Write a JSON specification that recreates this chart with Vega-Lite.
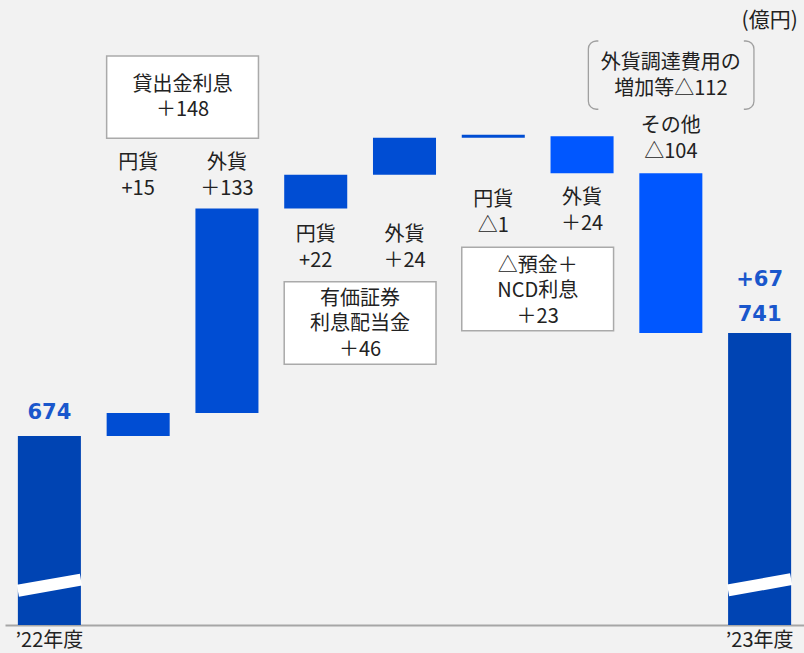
{
  "$schema": "https://vega.github.io/schema/vega-lite/v6.json",
  "width": 799,
  "height": 625,
  "autosize": {"type": "none"},
  "padding": {"left": 5, "top": 0, "right": 0, "bottom": 28},
  "background": "#f2f2f2",
  "config": {"view": {"stroke": null}, "font": "Noto Sans CJK JP"},
  "datasets": {
    "bars": [
      {"cat": "’22年度", "start": 0, "end": 674, "grp": "total"},
      {"cat": "円貨L", "start": 674, "end": 689, "grp": "a"},
      {"cat": "外貨L", "start": 689, "end": 822, "grp": "a"},
      {"cat": "円貨S", "start": 822, "end": 844, "grp": "a"},
      {"cat": "外貨S", "start": 844, "end": 868, "grp": "a"},
      {"cat": "円貨D", "start": 868, "end": 870, "grp": "a"},
      {"cat": "外貨D", "start": 869, "end": 845, "grp": "b"},
      {"cat": "その他", "start": 845, "end": 741, "grp": "b"},
      {"cat": "’23年度", "start": 0, "end": 741, "grp": "total"}
    ],
    "breaks": [
      {"cat": "’22年度", "lo": 573.4, "hi": 580.6},
      {"cat": "’23年度", "lo": 573.6, "hi": 580.9}
    ],
    "boxes": [
      {"c1": "円貨L", "c2": "外貨L", "top": 921.2, "bottom": 867.7},
      {"c1": "円貨S", "c2": "外貨S", "top": 774.4, "bottom": 720.7},
      {"c1": "円貨D", "c2": "外貨D", "top": 796.8, "bottom": 742.5}
    ],
    "bracket": [
      {"c1": "外貨D", "c2": "’23年度", "top": 931.0, "bottom": 886.6}
    ],
    "boxtext": [
      {"cat": "円貨L", "y": 902.4, "text": "貸出金利息\n＋148"},
      {"cat": "円貨S", "y": 763.2, "text": "有価証券\n利息配当金\n＋46"},
      {"cat": "円貨D", "y": 784.8, "text": "△預金＋\nNCD利息\n＋23"}
    ],
    "labels": [
      {"cat": "円貨L", "y": 851.4, "text": "円貨\n+15"},
      {"cat": "外貨L", "y": 851.4, "text": "外貨\n＋133"},
      {"cat": "円貨S", "y": 804.8, "text": "円貨\n+22"},
      {"cat": "外貨S", "y": 804.8, "text": "外貨\n＋24"},
      {"cat": "円貨D", "y": 827.6, "text": "円貨\n△1"},
      {"cat": "外貨D", "y": 828.7, "text": "外貨\n＋24"},
      {"cat": "その他", "y": 875.7, "text": "その他\n△104"},
      {"cat": "その他", "y": 916.5, "text": "外貨調達費用の\n増加等△112"}
    ],
    "totals": [
      {"cat": "’22年度", "y": 688.8, "text": "674"},
      {"cat": "’23年度", "y": 752.6, "text": "741"},
      {"cat": "’23年度", "y": 775.5, "text": "+67"}
    ],
    "unit": [
      {"cat": "’23年度", "y": 944.2, "text": "(億円)"}
    ]
  },
  "layer": [
    {
      "data": {"name": "bars"},
      "mark": {"type": "bar", "clip": true},
      "encoding": {
        "x": {
          "field": "cat", "type": "nominal",
          "scale": {
            "type": "band", "paddingInner": 0.29, "paddingOuter": 0.145,
            "domain": ["’22年度", "円貨L", "外貨L", "円貨S", "外貨S", "円貨D", "外貨D", "その他", "’23年度"]
          },
          "sort": null,
          "axis": {
            "title": null, "ticks": false, "grid": false,
            "domainColor": "#a6a6a6", "domainWidth": 2,
            "labelExpr": "indexof(['’22年度','’23年度'], datum.value) >= 0 ? datum.value : ''",
            "labelFont": "Noto Sans CJK JP", "labelFontSize": 20,
            "labelColor": "#222222", "labelPadding": 5, "labelAngle": 0
          }
        },
        "y": {
          "field": "start", "type": "quantitative",
          "scale": {"domain": [551.1, 957.66], "nice": false, "zero": false},
          "axis": null
        },
        "y2": {"field": "end"},
        "color": {
          "field": "grp", "type": "nominal",
          "scale": {"domain": ["total", "a", "b"], "range": ["#0044b3", "#004dd3", "#0057ff"]},
          "legend": null
        }
      }
    },
    {
      "data": {"name": "breaks"},
      "mark": {"type": "rule", "color": "#ffffff", "strokeWidth": 12, "strokeCap": "butt"},
      "encoding": {
        "x": {"field": "cat", "type": "nominal", "bandPosition": 0},
        "x2": {"field": "cat", "bandPosition": 1},
        "y": {"field": "lo", "type": "quantitative"},
        "y2": {"field": "hi"}
      }
    },
    {
      "data": {"name": "boxes"},
      "mark": {"type": "rect", "fill": "#ffffff", "stroke": "#aaaaaa", "strokeWidth": 1.5},
      "encoding": {
        "x": {"field": "c1", "type": "nominal", "bandPosition": 0},
        "x2": {"field": "c2", "bandPosition": 1},
        "y": {"field": "top", "type": "quantitative"},
        "y2": {"field": "bottom"}
      }
    },
    {
      "data": {"name": "bracket"},
      "mark": {"type": "rect", "fill": null, "fillOpacity": 0, "stroke": "#a0a0a0", "strokeWidth": 1.3, "cornerRadius": 8, "strokeDash": [81.4, 145.5], "strokeDashOffset": 79.4},
      "encoding": {
        "x": {"field": "c1", "type": "nominal", "bandPosition": 0.6},
        "x2": {"field": "c2", "bandPosition": 0.41},
        "y": {"field": "top", "type": "quantitative"},
        "y2": {"field": "bottom"}
      }
    },
    {
      "data": {"name": "boxtext"},
      "mark": {"type": "text", "lineBreak": "\n", "lineHeight": 25.5, "fontSize": 20, "color": "#222222", "align": "center", "baseline": "middle"},
      "encoding": {
        "x": {"field": "cat", "type": "nominal", "bandPosition": 1.204},
        "y": {"field": "y", "type": "quantitative"},
        "text": {"field": "text"}
      }
    },
    {
      "data": {"name": "labels"},
      "mark": {"type": "text", "lineBreak": "\n", "lineHeight": 26, "fontSize": 20, "color": "#222222", "align": "center", "baseline": "middle"},
      "encoding": {
        "x": {"field": "cat", "type": "nominal", "bandPosition": 0.5},
        "y": {"field": "y", "type": "quantitative"},
        "text": {"field": "text"}
      }
    },
    {
      "data": {"name": "totals"},
      "mark": {"type": "text", "font": "DejaVu Sans", "fontSize": 21, "fontWeight": "bold", "color": "#1a57cc", "align": "center", "baseline": "middle"},
      "encoding": {
        "x": {"field": "cat", "type": "nominal", "bandPosition": 0.5},
        "y": {"field": "y", "type": "quantitative"},
        "text": {"field": "text"}
      }
    },
    {
      "data": {"name": "unit"},
      "mark": {"type": "text", "fontSize": 21, "color": "#222222", "align": "center", "baseline": "middle"},
      "encoding": {
        "x": {"field": "cat", "type": "nominal", "bandPosition": 0.66},
        "y": {"field": "y", "type": "quantitative"},
        "text": {"field": "text"}
      }
    }
  ]
}
